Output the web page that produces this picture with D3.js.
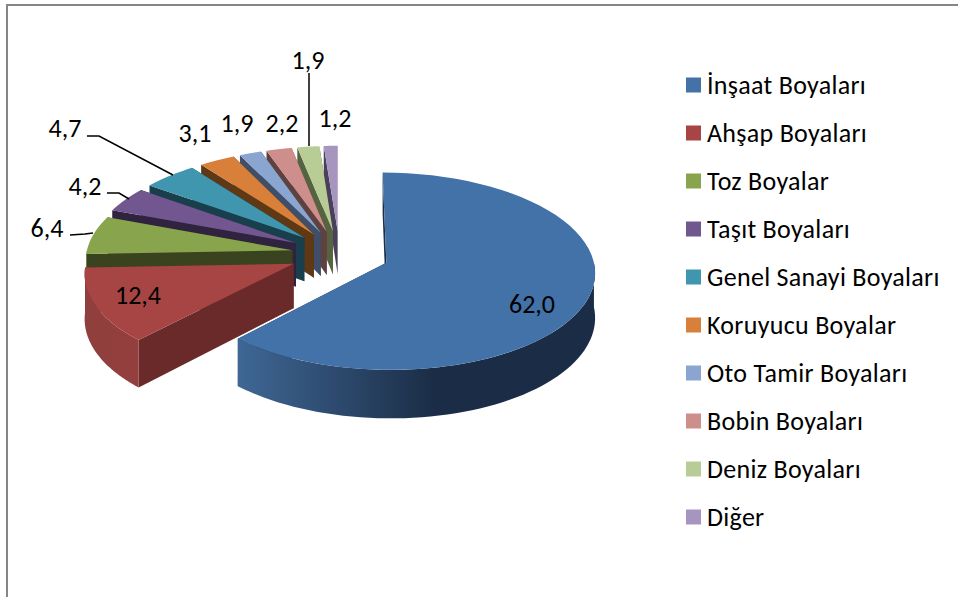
<!DOCTYPE html>
<html><head><meta charset="utf-8">
<script src="https://cdn.jsdelivr.net/npm/d3@7/dist/d3.min.js"></script>
<style>html,body{margin:0;padding:0;background:#fff;overflow:hidden}svg{display:block}text{font-family:Carlito,Lato,"Open Sans",sans-serif;fill:#000}</style>
</head><body><svg id="c" width="958" height="597"></svg>
<script>
const categories = ["İnşaat Boyaları","Ahşap Boyaları","Toz Boyalar","Taşıt Boyaları","Genel Sanayi Boyaları","Koruyucu Boyalar","Oto Tamir Boyaları","Bobin Boyaları","Deniz Boyaları","Diğer"];
const values = [62.0,12.4,6.4,4.2,4.7,3.1,1.9,2.2,1.9,1.2];
const valueLabels = ["62,0","12,4","6,4","4,2","4,7","3,1","1,9","2,2","1,9","1,2"];
const topColors = ["#4372a8","#a64543","#88a44c","#71568f","#3f96ae","#d8803a","#8aa5cf","#cd8e8c","#b8cd95","#a696bf"];
const wallColors = ["#1d2f47","#6a2a29","#3a431f","#2f2340","#1a3f4c","#5f3815","#3f4e69","#5f4240","#566340","#4a3f5c"];
const rimStart = ["#3f6795","#8f3f3d","#6f863e","#5c4675","#33798e","#b06a30","#7186a8","#a87472","#96a87a","#887a9c"];
const rimEnd = ["#1b2d46","#933f3d","#6f863e","#5c4675","#33798e","#b06a30","#7186a8","#a87472","#96a87a","#887a9c"];
const explodeBy = [50,50,48,50,50,50,50,50,50,50];
const labelX = [532,138,47,85,65,195,237,282,308,335];
const labelY = [304,295,228,186,128,133,123,123,60,118];
const leaders = [
  {i:2,pts:[[70,235],[85,234],[93,233]]},
  {i:3,pts:[[107,193],[119,193],[129,199]]},
  {i:4,pts:[[87,136],[99,136],[173,175]]},
  {i:8,pts:[[309,73],[309,146]]}
];

const W=958,H=597;
const cx=339.5,cy=254,R=206,k=0.468,dist=2400,depth=44;
const svg=d3.select("#c");
svg.append("rect").attr("width",W).attr("height",H).attr("fill","#fff");
svg.append("rect").attr("x",7).attr("y",5).attr("width",W+20).attr("height",H+20)
  .attr("fill","#fff").attr("stroke","#868686").attr("stroke-width",2);

const arcs=d3.pie().sort(null).value(d=>d).startAngle(0).endAngle(2*Math.PI)(values);
const project=(a,r,z,mid,e)=>{
  const U=Math.sin(mid)*e+Math.sin(a)*r;
  const V=-Math.cos(mid)*e-Math.cos(a)*r;
  const s=dist/(dist-V);
  return [cx+U*s,cy+V*k*s+z*s];
};
const line=d3.line();
const arcPts=(a0,a1,z,mid,e)=>d3.range(0,61).map(i=>project(a0+(a1-a0)*i/60,R,z,mid,e));
const defs=svg.append("defs");
const pieG=svg.append("g");
const order=d3.range(values.length).reverse().filter(i=>i!==0).concat([0]);

order.forEach(i=>{
  const d=arcs[i],mid=(d.startAngle+d.endAngle)/2,a0=d.startAngle,a1=d.endAngle,e=explodeBy[i];
  const g=pieG.append("g");
  const wall=a=>[project(a,0,0,mid,e),project(a,R,0,mid,e),project(a,R,depth,mid,e),project(a,0,depth,mid,e)];
  g.append("path").attr("d",line(wall(a1))+"Z").attr("fill",wallColors[i]);
  g.append("path").attr("d",line(wall(a0))+"Z").attr("fill",wallColors[i]);
  const lo=Math.max(a0,Math.PI/2),hi=Math.min(a1,3*Math.PI/2);
  if(hi>lo){
    const top=arcPts(lo,hi,0,mid,e),bot=arcPts(lo,hi,depth,mid,e).reverse();
    const xs=top.map(p=>p[0]);
    const id="rim"+i;
    const gr=defs.append("linearGradient").attr("id",id).attr("gradientUnits","userSpaceOnUse")
      .attr("x1",d3.min(xs)).attr("x2",d3.max(xs)).attr("y1",0).attr("y2",0);
    if(i===0){
      gr.append("stop").attr("offset",0).attr("stop-color",rimStart[i]);
      gr.append("stop").attr("offset",0.55).attr("stop-color",rimEnd[i]);
      gr.append("stop").attr("offset",1).attr("stop-color",rimEnd[i]);
    } else {
      gr.append("stop").attr("offset",0).attr("stop-color",rimStart[i]);
      gr.append("stop").attr("offset",1).attr("stop-color",rimEnd[i]);
    }
    g.append("path").attr("d",line(top.concat(bot))+"Z").attr("fill",`url(#${id})`);
  }
  const topFace=[project(a0,0,0,mid,e)].concat(arcPts(a0,a1,0,mid,e));
  g.append("path").attr("d",line(topFace)+"Z").attr("fill",topColors[i]);
});

svg.append("g").selectAll("path").data(leaders).join("path")
  .attr("d",d=>line(d.pts)).attr("fill","none").attr("stroke","#000").attr("stroke-width",1.5);

svg.append("g").selectAll("text").data(valueLabels).join("text")
  .attr("x",(d,i)=>labelX[i]).attr("y",(d,i)=>labelY[i]).attr("dy","0.35em")
  .attr("text-anchor","middle").attr("font-size",26).text(d=>d);

const legendY=d3.scalePoint().domain(categories).range([85,517]);
const lg=svg.append("g").selectAll("g").data(categories).join("g")
  .attr("transform",d=>`translate(686,${legendY(d)})`);
lg.append("rect").attr("x",0).attr("y",-7.5).attr("width",15).attr("height",15)
  .attr("fill",(d,i)=>topColors[i]);
lg.append("text").attr("x",21).attr("dy","0.35em").attr("font-size",26).attr("letter-spacing",0.3).text(d=>d);
</script></body></html>
